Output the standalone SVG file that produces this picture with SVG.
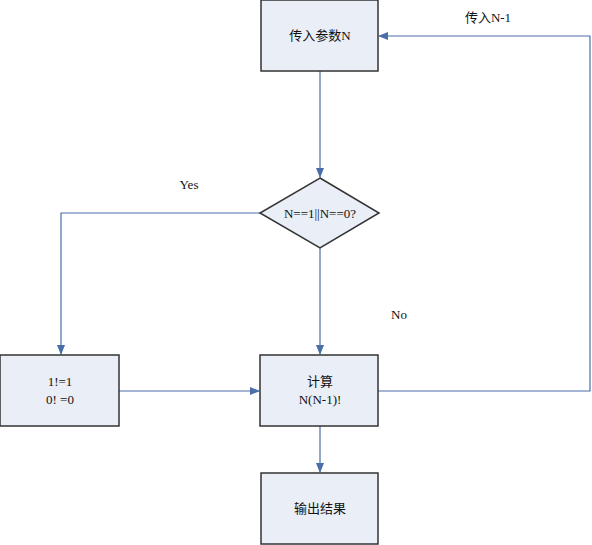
<svg xmlns="http://www.w3.org/2000/svg" width="592" height="545" viewBox="0 0 592 545">
<defs>
<marker id="arr" markerWidth="10" markerHeight="10" refX="9" refY="5" orient="auto" markerUnits="userSpaceOnUse">
<path d="M0,1 L10,5 L0,9 Z" fill="#4A6EAA"/>
</marker>
<style>
.box{fill:#E9EEF7;stroke:#333;stroke-width:1.5}
.t{font-family:"Liberation Serif","Noto Sans CJK SC",serif;font-size:13px;fill:#111;text-anchor:middle}
.c{fill:none;stroke:#4A6EAA;stroke-width:1.2}
</style>
</defs>
<rect width="592" height="545" fill="#fff"/>
<g id="connectors">
<line class="c" x1="320" y1="71" x2="320" y2="177" marker-end="url(#arr)"/>
<polyline class="c" points="260,213 61,213 61,354" marker-end="url(#arr)"/>
<line class="c" x1="320" y1="248" x2="320" y2="354" marker-end="url(#arr)"/>
<line class="c" x1="119" y1="391" x2="259" y2="391" marker-end="url(#arr)"/>
<polyline class="c" points="378,391 590,391 590,36 379,36" marker-end="url(#arr)"/>
<line class="c" x1="320" y1="426" x2="320" y2="472" marker-end="url(#arr)"/>
<text class="t" x="488" y="22">传入N-1</text>
<text class="t" x="189" y="189">Yes</text>
<text class="t" x="399" y="319">No</text>
</g>
<g id="input">
<rect class="box" x="261" y="0" width="117" height="71"/>
<text class="t" x="320" y="40">传入参数N</text>
</g>
<g id="decision">
<polygon class="box" points="320,178 379,213 320,248 260,213"/>
<text class="t" x="320" y="218">N==1||N==0?</text>
</g>
<g id="base">
<rect class="box" x="0" y="355" width="119" height="71"/>
<text class="t" x="60" y="386">1!=1</text>
<text class="t" x="60" y="404">0! =0</text>
</g>
<g id="compute">
<rect class="box" x="260" y="355" width="118" height="71"/>
<text class="t" x="320" y="386">计算</text>
<text class="t" x="320" y="404">N(N-1)!</text>
</g>
<g id="output">
<rect class="box" x="261" y="473" width="117" height="71"/>
<text class="t" x="320" y="513">输出结果</text>
</g>
</svg>
